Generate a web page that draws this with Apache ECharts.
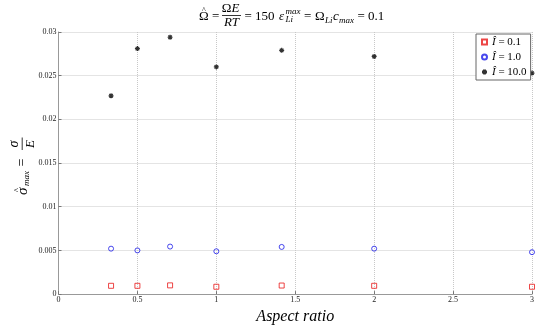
<!DOCTYPE html>
<html>
<head>
<meta charset="utf-8">
<script src="https://cdn.jsdelivr.net/npm/echarts@6/dist/echarts.min.js"></script>
<style>
  html, body { margin: 0; padding: 0; background: #fff; }
  #chart { width: 537px; height: 330px; }
</style>
</head>
<body>
<div id="chart"></div>
<script>
// aspect ratios of the cells (x) and peak stress for each current
const aspectRatios = [0.333, 0.5, 0.707, 1, 1.414, 2, 3];
const sigmaI01 = [0.00095, 0.00095, 0.001, 0.00084, 0.00098, 0.00095, 0.00084];
const sigmaI1 = [0.0052, 0.005, 0.00544, 0.0049, 0.0054, 0.0052, 0.0048];
const sigmaI10 = [0.0227, 0.0281, 0.0294, 0.026, 0.0279, 0.0272, 0.0253];
const seriesNames = ['0.1', '1.0', '10.0'];

const FONT = '"Liberation Serif", "DejaVu Serif", serif';

const pairs = ys => aspectRatios.map((x, i) => [x, ys[i]]);

// small helper for the math-like labels
function txt(x, y, text, size, italic, align) {
  return {
    type: 'text', x: x, y: y, silent: true,
    style: {
      text: text, fontSize: size, fontFamily: FONT,
      fontStyle: italic ? 'italic' : 'normal', fill: '#000',
      align: align || 'left', verticalAlign: 'middle'
    }
  };
}
function hline(x1, x2, y) {
  return {
    type: 'line', silent: true,
    shape: { x1: x1, y1: y, x2: x2, y2: y },
    style: { stroke: '#000', lineWidth: 0.8 }
  };
}

const titleParts = [
  txt(199, 17, 'Ω', 13, false),
  txt(204, 10.5, '^', 8, false, 'center'),
  txt(212, 17, '=', 13, false),
  txt(231.5, 9, 'Ω', 13, false, 'right'),
  txt(231.5, 9, 'E', 13, true),
  hline(222, 241, 15.5),
  txt(231.5, 23, 'RT', 13, true, 'center'),
  txt(244.5, 17, '=', 13, false),
  txt(255, 17, '150', 13, false),
  txt(279, 17, 'ε', 13, true),
  txt(285.5, 11.5, 'max', 9, true),
  txt(285.5, 20, 'Li', 9, true),
  txt(304, 17, '=', 13, false),
  txt(315, 17, 'Ω', 13, false),
  txt(325, 21, 'Li', 9, true),
  txt(333, 17, 'c', 13, true),
  txt(339, 21, 'max', 9, true),
  txt(357.5, 17, '=', 13, false),
  txt(368, 17, '0.1', 13, false)
];

const yLabel = {
  type: 'group', x: 22.7, y: 166, rotation: Math.PI / 2,
  children: [
    txt(-29, 0, 'σ', 15, true),
    txt(-24, -4.5, '^', 8, false, 'center'),
    txt(-20, 4, 'max', 9, true),
    txt(-0.5, 0, '=', 14, false),
    txt(22, -8, 'σ', 14, true, 'center'),
    hline(16, 28.5, -0.5),
    txt(22, 8, 'E', 13, true, 'center')
  ]
};

const starPath = 'path://M5,0L5,10M0,5L10,5M1.5,1.5L8.5,8.5M1.5,8.5L8.5,1.5';

const chart = echarts.init(document.getElementById('chart'), null, { renderer: 'canvas' });

const option = {
  animation: false,
  backgroundColor: '#fff',
  grid: { left: 58.5, right: 1.5, top: 32, bottom: 23.5, containLabel: false },
  legend: {
    orient: 'vertical', left: 476, top: 34,
    padding: [2, 4, 2, 5],
    borderColor: '#666', borderWidth: 1, backgroundColor: '#fff',
    itemWidth: 5, itemHeight: 5, itemGap: 3,
    textStyle: {
      fontFamily: FONT, fontSize: 11, color: '#000', lineHeight: 12,
      rich: { i: { fontFamily: FONT, fontSize: 11, fontStyle: 'italic', lineHeight: 12 } }
    },
    formatter: name => '{i|Î} = ' + name,
    data: seriesNames
  },
  xAxis: {
    type: 'value', min: 0, max: 3, interval: 0.5,
    name: 'Aspect ratio', nameLocation: 'middle', nameGap: 9,
    nameTextStyle: { fontFamily: FONT, fontStyle: 'italic', fontSize: 16, color: '#000' },
    axisLine: { lineStyle: { color: '#999', width: 1 } },
    axisTick: { inside: true, length: 3, lineStyle: { color: '#777' } },
    axisLabel: { fontFamily: FONT, fontSize: 8, color: '#222', margin: 2 },
    splitLine: { lineStyle: { type: 'dotted', color: '#c8c8c8' } }
  },
  yAxis: {
    type: 'value', min: 0, max: 0.03, interval: 0.005,
    axisLine: { show: true, lineStyle: { color: '#999', width: 1 } },
    axisTick: { show: true, inside: true, length: 3, lineStyle: { color: '#777' } },
    axisLabel: { fontFamily: FONT, fontSize: 8, color: '#222', margin: 2 },
    splitLine: { lineStyle: { type: 'dotted', color: '#c8c8c8' } }
  },
  graphic: titleParts.concat([yLabel]),
  series: [
    {
      name: seriesNames[0], type: 'scatter', symbol: 'rect', symbolSize: 5,
      itemStyle: { color: 'rgba(255,255,255,0)', borderColor: '#e81818', borderWidth: 1 },
      data: pairs(sigmaI01)
    },
    {
      name: seriesNames[1], type: 'scatter', symbol: 'circle', symbolSize: 5,
      itemStyle: { color: 'rgba(255,255,255,0)', borderColor: '#1a1ae8', borderWidth: 1 },
      data: pairs(sigmaI1)
    },
    {
      name: seriesNames[2], type: 'scatter', symbol: starPath, symbolSize: 5,
      clip: false,
      itemStyle: { color: '#000', borderColor: '#000', borderWidth: 1.2 },
      data: pairs(sigmaI10)
    }
  ]
};

chart.setOption(option);
</script>
</body>
</html>
